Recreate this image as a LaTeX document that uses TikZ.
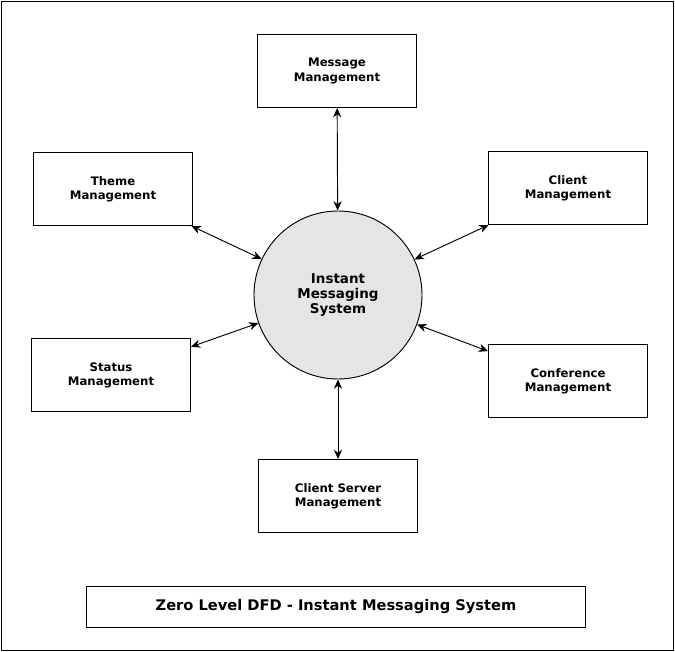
\documentclass[tikz,border=0pt]{standalone}
\usepackage{fontspec}
\setmainfont{DejaVu Sans}
\usetikzlibrary{positioning,arrows.meta}
\tikzset{>={Stealth[length=8pt,width=7pt]}}
\tikzset{proc/.style={draw,thick,minimum width=4.77cm,minimum height=2.19cm,align=center,font=\fontsize{10}{12}\bfseries\selectfont},
  flow/.style={<->,thick}}

\begin{document}
\begin{tikzpicture}[x=0.03cm,y=-0.03cm]
\useasboundingbox (0,0) rectangle (675,652);
\draw[thick] (1,1) rectangle (673,650);
% Central process
\node[circle,draw,thick,fill=gray!20,minimum size=5.04cm,align=center,font=\fontsize{11.5}{13}\bfseries\selectfont] (sys) at (338,295) {Instant\\Messaging\\System};
% Surrounding processes
\node[proc] (msg) at (337,71) {Message\\Management};
\node[proc] (theme) at (113,189) {Theme\\Management};
\node[proc] (client) at (568,188) {Client\\Management};
\node[proc] (status) at (111,375) {Status\\Management};
\node[proc] (conf) at (568,381) {Conference\\Management};
\node[proc] (server) at (338,496) {Client Server\\Management};
% Flows
\draw[flow] (msg) -- (sys);
\draw[flow] (theme) -- (sys);
\draw[flow] (client) -- (sys);
\draw[flow] (status) -- (sys);
\draw[flow] (conf) -- (sys);
\draw[flow] (server) -- (sys);
% Title
\node[draw,thick,minimum width=14.97cm,minimum height=1.23cm,font=\fontsize{12.5}{14}\bfseries\selectfont] (title) at (336,607) {Zero Level DFD - Instant Messaging System};
\end{tikzpicture}
\end{document}
